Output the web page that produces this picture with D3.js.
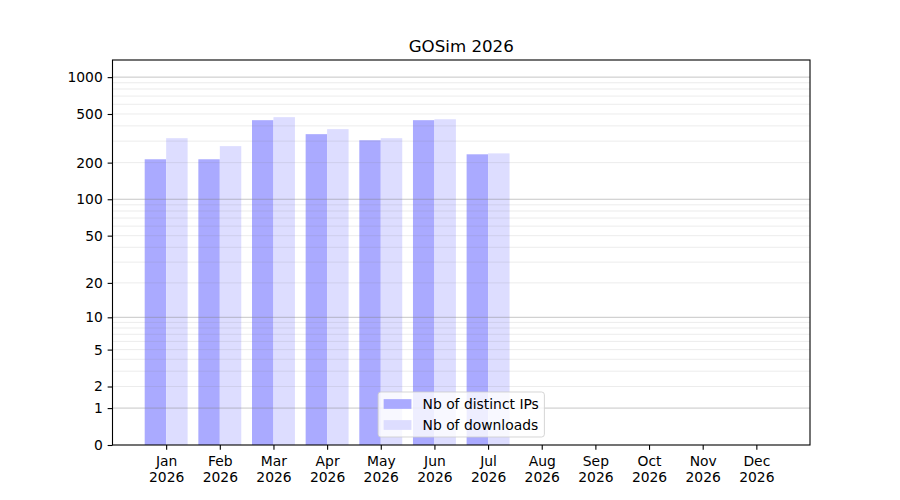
<!DOCTYPE html>
<html>
<head>
<meta charset="utf-8">
<script src="https://cdn.jsdelivr.net/npm/d3@7"></script>
<style>
    body { margin: 0; background: #fff; }
    svg, svg text { font-family: "DejaVu Sans", sans-serif; }
</style>
</head>
<body>
<svg id="chart"></svg>
<script>
// monthly stats, one value per month (Aug-Dec have no data yet)
const months = ["Jan", "Feb", "Mar", "Apr", "May", "Jun", "Jul", "Aug", "Sep", "Oct", "Nov", "Dec"];
const year = "2026";
const distinctIps = [213, 213, 445, 342, 305, 445, 234];
const downloads = [317, 273, 471, 376, 317, 453, 238];
const yTicks = [0, 1, 2, 5, 10, 20, 50, 100, 200, 500, 1000];
const seriesNames = ["Nb of distinct IPs", "Nb of downloads"];
const seriesColors = ["#aaaaff", "#ddddff"];

const width = 900, height = 500;
const margin = {left: 112.5, right: 90, top: 60, bottom: 55};
const plotW = width - margin.left - margin.right;
const plotH = height - margin.top - margin.bottom;
const fontSize = 13.89; // 10pt at 100 dpi
const tickLen = 4.86;

function drawChart() {
    const svg = d3.select("#chart")
        .attr("width", width)
        .attr("height", height);

    // month i sits at x = i + 1, axis runs 0..13
    const x = d3.scaleLinear().domain([0, months.length + 1]).range([0, plotW]);
    const y = d3.scaleSymlog().constant(1).domain([0, 1380]).range([plotH, 0]);

    const g = svg.append("g")
        .attr("transform", `translate(${margin.left},${margin.top})`);

    drawBars(g, x, y, distinctIps, -0.4, seriesColors[0]);
    drawBars(g, x, y, downloads, 0, seriesColors[1]);
    drawGrid(g, y);
    drawAxes(g, x, y);
    drawLegend(g);

    svg.append("text")
        .attr("x", margin.left + plotW / 2)
        .attr("y", margin.top - 8)
        .attr("text-anchor", "middle")
        .style("font-size", "16.67px")
        .text(`GOSim ${year}`);
}

function drawBars(g, x, y, values, offset, color) {
    g.append("g").selectAll("rect")
        .data(values)
        .enter()
        .append("rect")
        .attr("x", (d, i) => x(i + 1 + offset))
        .attr("width", x(0.4) - x(0))
        .attr("y", d => y(d))
        .attr("height", d => y(0) - y(d))
        .attr("fill", color);
}

function drawGrid(g, y) {
    // minor lines at 2..9 of every decade, major at the powers of ten
    const minor = [];
    [1, 10, 100].forEach(dec => d3.range(2, 10).forEach(k => minor.push(k * dec)));
    const major = [1, 10, 100, 1000];

    g.append("g").selectAll("line")
        .data(minor)
        .enter()
        .append("line")
        .attr("x1", 0).attr("x2", plotW)
        .attr("y1", d => y(d)).attr("y2", d => y(d))
        .attr("stroke", "#808080")
        .attr("stroke-opacity", 0.15)
        .attr("stroke-width", 1);

    g.append("g").selectAll("line")
        .data(major)
        .enter()
        .append("line")
        .attr("x1", 0).attr("x2", plotW)
        .attr("y1", d => y(d)).attr("y2", d => y(d))
        .attr("stroke", "#808080")
        .attr("stroke-opacity", 0.45)
        .attr("stroke-width", 1);
}

function drawAxes(g, x, y) {
    const yAxis = g.append("g")
        .call(d3.axisLeft(y).tickValues(yTicks).tickFormat(d3.format("d")).tickSize(tickLen).tickPadding(tickLen))
        .attr("font-family", "DejaVu Sans")
        .attr("font-size", fontSize);
    yAxis.select(".domain").remove();
    yAxis.selectAll("text").attr("fill", "#000");
    yAxis.selectAll(".tick line").attr("stroke", "#000").attr("stroke-width", 1.1);

    const xAxis = g.append("g")
        .attr("transform", `translate(0,${plotH})`)
        .call(d3.axisBottom(x).tickValues(d3.range(1, months.length + 1)).tickFormat("").tickSize(tickLen))
        .attr("font-family", "DejaVu Sans")
        .attr("font-size", fontSize);
    xAxis.select(".domain").remove();
    xAxis.selectAll(".tick line").attr("stroke", "#000").attr("stroke-width", 1.1);

    const labels = xAxis.selectAll(".tick").append("text")
        .attr("fill", "#000")
        .attr("text-anchor", "middle");
    labels.append("tspan").attr("x", 0).attr("y", 21).text((d, i) => months[i]);
    labels.append("tspan").attr("x", 0).attr("y", 37).text(year);

    g.append("rect")
        .attr("width", plotW)
        .attr("height", plotH)
        .attr("fill", "none")
        .attr("stroke", "#000")
        .attr("stroke-width", 1.1);
}

function drawLegend(g) {
    const fs = fontSize;
    const pad = 0.4 * fs, handleW = 2 * fs, handleH = 0.7 * fs, textPad = 0.8 * fs;
    const rowH = 21;

    const legend = g.append("g");
    const box = legend.append("rect")
        .attr("rx", 2.8)
        .attr("fill", "#fff")
        .attr("fill-opacity", 0.8)
        .attr("stroke", "#cccccc")
        .attr("stroke-opacity", 0.8)
        .attr("stroke-width", 1);

    const items = legend.selectAll(".item")
        .data(seriesNames)
        .enter()
        .append("g")
        .attr("class", "item")
        .attr("transform", (d, i) => `translate(0,${i * rowH})`);

    items.append("rect")
        .attr("x", pad)
        .attr("y", -handleH / 2)
        .attr("width", handleW)
        .attr("height", handleH)
        .attr("fill", (d, i) => seriesColors[i]);

    const texts = items.append("text")
        .attr("x", pad + handleW + textPad)
        .attr("dy", "0.35em")
        .style("font-size", fs + "px")
        .text(d => d);

    let maxW = 0;
    texts.each(function () { maxW = Math.max(maxW, this.getComputedTextLength()); });
    const boxW = pad + handleW + textPad + maxW + pad;
    const boxH = 45;
    box.attr("x", 0).attr("y", -12).attr("width", boxW).attr("height", boxH);

    const left = plotW / 2 - boxW / 2;
    const top = plotH - 8 - boxH + 12;
    legend.attr("transform", `translate(${left},${top})`);
}

drawChart();
</script>
</body>
</html>
